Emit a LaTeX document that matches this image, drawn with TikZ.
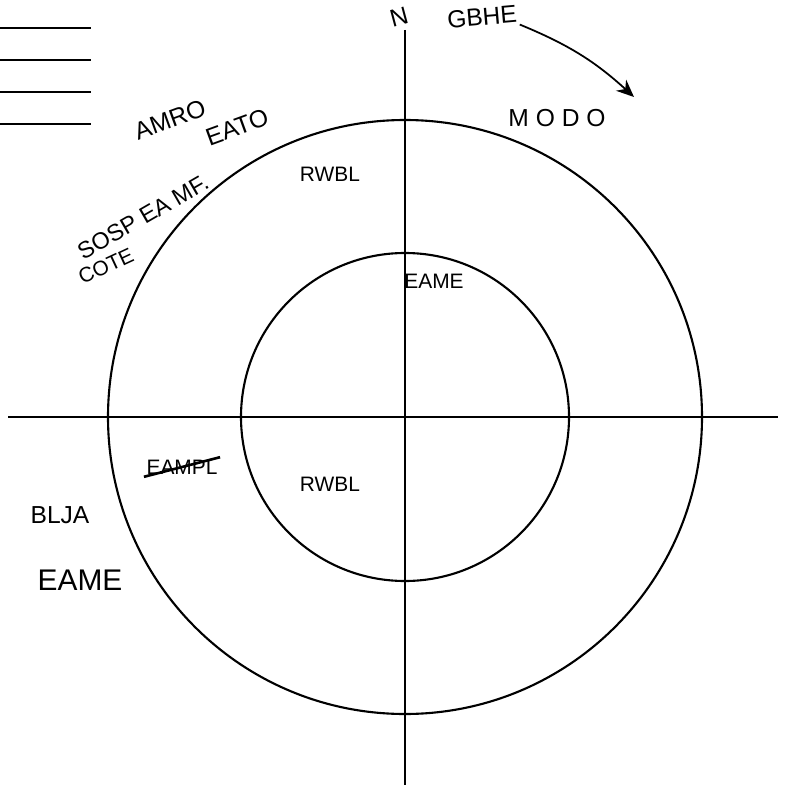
\documentclass[tikz,border=0pt]{standalone}
\usepackage{fontspec}
\setsansfont{Liberation Sans}
\usepackage{tikz}
\usetikzlibrary{arrows.meta,shapes.misc}

\begin{document}
\begin{tikzpicture}[x=0.02cm, y=-0.02cm, every node/.style={font=\sffamily\fontsize{14}{14}\selectfont, inner sep=1pt}, ring/.style={line width=1.2pt}, axis/.style={line width=1pt}, rule/.style={line width=1.6pt}, lbl/.style={text=black}, arrow/.style={-{Stealth[length=3.5mm, width=3mm]}, line width=1pt}]
\useasboundingbox (0,0) rectangle (785,787);
\coordinate (c) at (405,417);
\draw[rule] (0,28)--(91,28); \draw[rule] (0,60)--(91,60); \draw[rule] (0,92)--(91,92); \draw[rule] (0,124)--(91,124);
\draw[ring] (c) circle[radius=297]; \draw[ring] (c) circle[radius=164];
\coordinate (w) at (8,417); \coordinate (e) at (778,417); \coordinate (n) at (405,30); \coordinate (s) at (405,785);
\draw[axis] (w)--(e); \draw[axis] (n)--(s);
\node[lbl, rotate=15] (north) at (399,17) {N};
\node[lbl, rotate=5] (gbhe) at (482,17) {GBHE};
\coordinate (gtip) at (634,97);
\draw[arrow] (gbhe.south east) to[bend left=10] (gtip);
\node[lbl] (modo) at (557,118) {M O D O};
\node[lbl, rotate=20] (amro) at (170,120) {AMRO};
\node[lbl, rotate=20] (eato) at (237,127) {EATO};
\node[lbl, rotate=30, scale=0.95] (sosp) at (143,217) {SOSP EA MF.};
\node[lbl, rotate=25, scale=0.85] (cote) at (106,266) {COTE};
\node[lbl, scale=0.85] (rwbl1) at (330,174) {RWBL};
\node[lbl, scale=0.85] (eame1) at (434,281) {EAME};
\node[lbl, strike out, draw, line width=1.5pt, scale=0.85] (x) at (182,467) {EAMPL};
\node[lbl, scale=0.85] (rwbl2) at (330,484) {RWBL};
\node[lbl] (blja) at (60,515) {BLJA};
\node[lbl, font=\sffamily\fontsize{17}{17}\selectfont] (eame2) at (80,580) {EAME};
\end{tikzpicture}
\end{document}
